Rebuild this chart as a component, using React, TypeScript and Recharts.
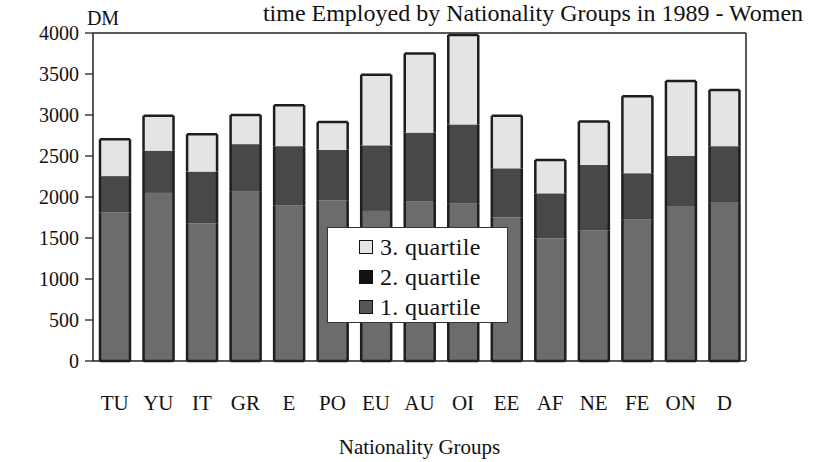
import React from 'react';
import { BarChart, Bar, XAxis, YAxis, CartesianGrid, Legend } from 'recharts';

const categories = ['TU', 'YU', 'IT', 'GR', 'E', 'PO', 'EU', 'AU', 'OI', 'EE', 'AF', 'NE', 'FE', 'ON', 'D'];
// upper bounds of each quartile (DM)
const quartile1 = [1810, 2050, 1680, 2065, 1895, 1960, 1830, 1950, 1925, 1750, 1495, 1590, 1730, 1890, 1930];
const quartile2 = [2255, 2565, 2310, 2645, 2620, 2575, 2630, 2785, 2885, 2350, 2045, 2390, 2290, 2500, 2620];
const quartile3 = [2705, 2990, 2765, 3000, 3120, 2915, 3490, 3750, 3975, 2990, 2450, 2920, 3230, 3415, 3305];
const yTicks = [0, 500, 1000, 1500, 2000, 2500, 3000, 3500, 4000];
const boundaryTicks = [0, 1, 2, 3, 4, 5, 6, 7, 8, 9, 10, 11, 12, 13, 14, 15];

const data = categories.map((c, i) => ({
  name: c,
  q1: quartile1[i],
  q2: quartile2[i] - quartile1[i],
  q3: quartile3[i] - quartile2[i],
}));

const FONT = "'Liberation Serif', 'Times New Roman', Times, serif";
const C1 = '#6c6c6c';
const C2 = '#484848';
const C3 = '#e4e4e4';
const EDGE = '#1e1e1e';

const makeShape = (fill: string, pos: 'bottom' | 'middle' | 'top') => (props: any) => {
  const { x, y, width, height } = props;
  if (width == null || height == null) return <g />;
  const l = x, r = x + width, t = y, b = y + height;
  let d = `M${l},${t}L${l},${b}M${r},${t}L${r},${b}`;
  if (pos === 'top') d += `M${l},${t}L${r},${t}`;
  if (pos === 'bottom') d += `M${l},${b}L${r},${b}`;
  return (
    <g>
      <rect x={x} y={y} width={width} height={height} fill={fill} />
      <path d={d} stroke={EDGE} strokeWidth={2.5} fill="none" />
    </g>
  );
};

const legendItems = [
  { label: '3. quartile', color: C3 },
  { label: '2. quartile', color: '#111' },
  { label: '1. quartile', color: '#555' },
];

const LegendBox = () => (
  <div
    style={{
      boxSizing: 'border-box',
      width: 181,
      height: 96,
      background: '#fff',
      border: '1px solid #333',
      fontFamily: FONT,
      fontSize: 24,
      color: '#111',
      paddingTop: 4,
    }}
  >
    {legendItems.map((it) => (
      <div key={it.label} style={{ height: 30, display: 'flex', alignItems: 'center', paddingLeft: 31 }}>
        <span
          style={{
            display: 'inline-block',
            boxSizing: 'border-box',
            width: 14,
            height: 14,
            background: it.color,
            border: '1.5px solid #111',
            marginRight: 7,
            flex: 'none',
          }}
        />
        <span style={{ fontFamily: FONT, letterSpacing: 0.3, whiteSpace: 'nowrap' }}>{it.label}</span>
      </div>
    ))}
  </div>
);

const tickStyle = { fontFamily: FONT, fontSize: 20, fill: '#111' };

export default function App() {
  return (
    <div style={{ position: 'absolute', left: 0, top: 0, width: 819, height: 462, background: '#fff', fontFamily: FONT }}>
      <BarChart
        width={819}
        height={462}
        data={data}
        margin={{ top: 33, right: 13, left: 33, bottom: 0 }}
        barCategoryGap={0}
        style={{ fontFamily: FONT }}
      >
        <CartesianGrid vertical={false} stroke="#222" strokeWidth={1.3} />
        <XAxis
          xAxisId="n"
          type="number"
          domain={[0, 15]}
          ticks={boundaryTicks}
          allowDataOverflow
          height={0}
          tick={false}
          tickSize={8}
          tickLine={{ stroke: '#222', strokeWidth: 1.3 }}
          axisLine={{ stroke: '#222', strokeWidth: 1.5 }}
        />
        <XAxis
          dataKey="name"
          height={101}
          tickLine={false}
          axisLine={false}
          tickSize={0}
          tickMargin={34}
          interval={0}
          fontFamily={FONT}
          fontSize={21}
          tick={{ ...tickStyle, fontSize: 21 }}
          label={{ value: 'Nationality Groups', position: 'insideBottom', offset: 8, fontFamily: FONT, fontSize: 21, fill: '#111' }}
        />
        <YAxis
          yAxisId="l"
          domain={[0, 4000]}
          ticks={yTicks}
          width={60}
          tickSize={8}
          tickMargin={6}
          fontFamily={FONT}
          fontSize={20}
          tick={tickStyle}
          tickLine={{ stroke: '#222', strokeWidth: 1.3 }}
          axisLine={{ stroke: '#222', strokeWidth: 1.5 }}
        />
        <YAxis
          yAxisId="r"
          orientation="right"
          domain={[0, 4000]}
          ticks={yTicks}
          width={60}
          tickSize={8}
          tickMargin={6}
          fontFamily={FONT}
          fontSize={20}
          tick={tickStyle}
          tickLine={{ stroke: '#222', strokeWidth: 1.3 }}
          axisLine={{ stroke: '#222', strokeWidth: 1.5 }}
        />
        <Legend
          layout="vertical"
          align="center"
          verticalAlign="middle"
          content={() => <LegendBox />}
          wrapperStyle={{ position: 'absolute', left: 327, top: 227, width: 181, height: 96 }}
        />
        <Bar yAxisId="l" dataKey="q1" stackId="a" barSize={30} fill={C1} isAnimationActive={false} shape={makeShape(C1, 'bottom')} />
        <Bar yAxisId="l" dataKey="q2" stackId="a" barSize={30} fill={C2} isAnimationActive={false} shape={makeShape(C2, 'middle')} />
        <Bar yAxisId="l" dataKey="q3" stackId="a" barSize={30} fill={C3} isAnimationActive={false} shape={makeShape(C3, 'top')} />
      </BarChart>
      <svg width={819} height={462} style={{ position: 'absolute', left: 0, top: 0, pointerEvents: 'none' }}>
        <text x={533} y={21} textAnchor="middle" fontFamily={FONT} fontSize={24} fill="#111">
          time Employed by Nationality Groups in 1989 - Women
        </text>
        <text x={103} y={25} textAnchor="middle" fontFamily={FONT} fontSize={20} fill="#111">
          DM
        </text>
      </svg>
    </div>
  );
}
